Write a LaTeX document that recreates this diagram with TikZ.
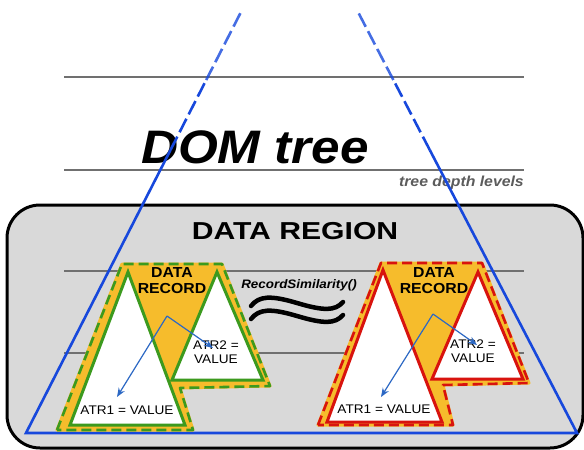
\documentclass[tikz,border=0pt]{standalone}
\usepackage{fontspec}
\setmainfont{Liberation Sans}[FakeStretch=1.09]
\newfontfamily\widesans{Liberation Sans}[FakeStretch=1.23]
\usetikzlibrary{arrows.meta}

\definecolor{regiongray}{HTML}{D9D9D9}
\definecolor{levelgray}{HTML}{707070}
\definecolor{domblue}{HTML}{1748DC}
\definecolor{recyellow}{HTML}{F6BC2C}
\definecolor{recgreen}{HTML}{3C9A1E}
\definecolor{recred}{HTML}{D8130E}
\definecolor{linkblue}{HTML}{2C68C4}
\definecolor{notegray}{HTML}{5C5C5C}

\tikzset{
  region/.style={fill=regiongray, draw=black, line width=3pt, rounded corners=33pt},
  level/.style={draw=levelgray, line width=2.6pt},
  domedge/.style={draw=domblue, line width=2.6pt, line join=miter},
  domfade/.style={domedge, dash pattern=on 15pt off 5pt},
  recfill/.style={fill=recyellow, draw=recyellow, line width=3pt, line join=round,
    postaction={draw=#1, line width=2.6pt, dash pattern=on 10pt off 5pt}},
  tri/.style={fill=white, draw=#1, line width=3pt, line join=miter},
  link/.style={draw=linkblue, line width=1.2pt, -{Stealth[length=9pt,width=7pt]}},
  wave/.style={draw=black, line width=4.5pt, line cap=round},
  reclbl/.style={font=\fontsize{14.5}{16}\selectfont\bfseries, align=center, inner sep=0pt, anchor=base},
  attlbl/.style={font=\fontsize{12.5}{14}\selectfont, align=center, inner sep=0pt, anchor=base},
}

\begin{document}
\begin{tikzpicture}[x=1pt, y=-1pt]
\useasboundingbox (0,0) rectangle (584,450);

% the data region block
\draw[region] (7,205) rectangle (583,448);

% tree depth levels
\foreach \yy in {77,170,271,353}
  \draw[level] (64,\yy) -- (524,\yy);

% titles
\node[font=\fontsize{47}{47}\selectfont\bfseries\itshape, inner sep=0pt, anchor=base] (dom) at (255,163) {DOM tree};
\node[font=\fontsize{14.5}{15}\selectfont\bfseries\itshape, text=notegray, inner sep=0pt, anchor=base east] (levels) at (524,186) {tree depth levels};
\node[font=\fontsize{24.5}{25}\selectfont\widesans\bfseries, inner sep=0pt, anchor=base] (regiontitle) at (295,239) {DATA REGION};
\node[font=\fontsize{12.3}{13}\selectfont\bfseries\itshape, inner sep=0pt, anchor=base] (sim) at (299,288) {RecordSimilarity()};

% DOM tree outline (apex beyond the top edge)
\draw[domedge] (170.5,150) -- (26,433) -- (577,433) -- (429.8,150);
\draw[domfade] (170.5,150) -- (206.2,80);
\draw[domfade] (429.8,150) -- (393.4,80);
\draw[domfade, draw opacity=0.8] (206.2,80) -- (242,10);
\draw[domfade, draw opacity=0.8] (393.4,80) -- (357,10);

% similarity sign
\draw[wave] (251,306) .. controls (259,296) and (270,295) .. (297,303)
                      .. controls (324,311) and (335,311) .. (343,302);
\draw[wave] (251,319) .. controls (259,309) and (270,308) .. (297,316)
                      .. controls (324,324) and (335,324) .. (343,315);

% left data record
\draw[recfill=recgreen] (57,430) -- (122,264) -- (222,264) -- (270,386) -- (180,388) -- (193,430) -- cycle;
\draw[tri=recgreen] (128,272) -- (70,425) -- (185,425) -- cycle;
\draw[tri=recgreen] (217,272) -- (172,380) -- (263,380) -- cycle;

% right data record
\draw[recfill=recred] (318,425) -- (381,263) -- (482,263) -- (529,383) -- (443,385) -- (453,425) -- cycle;
\draw[tri=recred] (383,270) -- (327,422) -- (442,422) -- cycle;
\draw[tri=recred] (478,272) -- (432,379) -- (523,379) -- cycle;

% record labels
\node[reclbl] (lrec) at (172,293) {DATA\\RECORD};
\node[reclbl] (rrec) at (434,293) {DATA\\RECORD};
\node[attlbl] (latr2) at (216,363) {ATR2 =\\VALUE};
\node[attlbl] (ratr2) at (473,362) {ATR2 =\\VALUE};
\node[attlbl] (latr1) at (127,414) {ATR1 = VALUE};
\node[attlbl] (ratr1) at (384,413) {ATR1 = VALUE};

% attribute links
\coordinate (lsrc) at (167,316);
\coordinate (lto2) at (213,348);
\coordinate (lto1) at (117,397);
\coordinate (rsrc) at (433,314);
\coordinate (rto2) at (477,345);
\coordinate (rto1) at (381,397);
\draw[link] (lsrc) -- (lto2);
\draw[link] (lsrc) -- (lto1);
\draw[link] (rsrc) -- (rto2);
\draw[link] (rsrc) -- (rto1);
\end{tikzpicture}
\end{document}
